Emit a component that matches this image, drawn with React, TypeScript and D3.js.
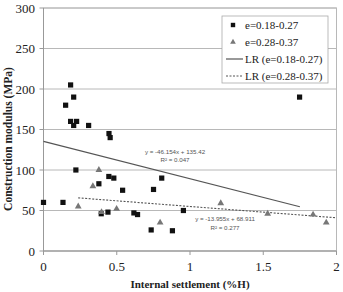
import React from "react";
import * as d3 from "d3";

// Group e=0.18-0.27 (squares)
const groupAX = [0.0, 0.133, 0.151, 0.185, 0.206, 0.185, 0.226, 0.206, 0.308, 0.447, 0.455, 0.221, 0.446, 0.48, 0.378, 0.54, 0.751, 0.807, 0.394, 0.44, 0.617, 0.642, 0.955, 0.735, 0.88, 1.748];
const groupAY = [60, 60, 180, 205, 190, 160, 160, 155, 155, 145, 140, 100, 92, 90, 83, 75, 76, 90, 46, 48, 47, 45, 50, 26, 25, 190];

// Group e=0.28-0.37 (triangles)
const groupBX = [0.378, 0.337, 0.237, 0.396, 0.499, 0.796, 1.21, 1.53, 1.84, 1.93];
const groupBY = [100, 80, 55, 48, 52, 35, 59, 46, 45, 35];

// Linear regressions
const fitA = { slope: -46.154, intercept: 135.42, x0: 0, x1: 1.75, eq: "y = -46.154x + 135.42", r2: "R² = 0.047" };
const fitB = { slope: -13.955, intercept: 68.911, x0: 0.237, x1: 2, eq: "y = -13.955x + 68.911", r2: "R² = 0.277" };

const xTicks = [0, 0.5, 1, 1.5, 2];
const yTicks = [0, 50, 100, 150, 200, 250, 300];
const legendLabels = ["e=0.18-0.27", "e=0.28-0.37", "LR (e=0.18-0.27)", "LR (e=0.28-0.37)"];

const W = 343;
const H = 292;
const serif = "'Liberation Serif', 'Times New Roman', serif";
const sans = "'Liberation Sans', Arial, sans-serif";

export default function App() {
  const x = d3.scaleLinear().domain([0, 2]).range([43.5, 336.5]);
  const y = d3.scaleLinear().domain([0, 300]).range([251, 8]);
  const tri = d3.symbol().type(d3.symbolTriangle).size(20)();

  const fitLine = (f: typeof fitA) =>
    d3.line<number>().x((v) => x(v)).y((v) => y(f.slope * v + f.intercept))([f.x0, f.x1]) || "";

  const fmt = (v: number) => (v === 0 ? "0" : String(v));

  const lx = 222;
  const ly = 16;
  const rowY = [25, 42, 59, 76];

  return (
    <svg width={W} height={H} style={{ position: "absolute", left: 0, top: 0, background: "#fff" }}>
      {/* grid */}
      {yTicks.map((t) => (
        <line key={"g" + t} x1={x(0)} x2={x(2)} y1={y(t)} y2={y(t)} stroke="#b8b8b8" strokeWidth={1} />
      ))}
      {/* plot frame */}
      <rect x={x(0)} y={y(300)} width={x(2) - x(0)} height={y(0) - y(300)} fill="none" stroke="#b8b8b8" strokeWidth={1} />
      <line x1={x(0)} x2={x(0)} y1={y(0)} y2={y(300)} stroke="#999" />
      <line x1={x(0)} x2={x(2)} y1={y(0)} y2={y(0)} stroke="#999" />

      {/* y ticks */}
      {yTicks.map((t) => (
        <g key={"y" + t}>
          <line x1={x(0) - 4} x2={x(0)} y1={y(t)} y2={y(t)} stroke="#999" />
          <text x={35} y={y(t)} dy="0.35em" textAnchor="end" fontFamily={serif} fontSize={13} fill="#222">
            {fmt(t)}
          </text>
        </g>
      ))}
      {/* x ticks */}
      {xTicks.map((t) => (
        <g key={"x" + t}>
          <line x1={x(t)} x2={x(t)} y1={y(0)} y2={y(0) + 4} stroke="#999" />
          <text x={x(t)} y={270.5} textAnchor="middle" fontFamily={serif} fontSize={13} fill="#222">
            {fmt(t)}
          </text>
        </g>
      ))}

      {/* axis titles */}
      <text x={190} y={288} textAnchor="middle" fontFamily={serif} fontSize={11} fontWeight="bold" fill="#222">
        Internal settlement  (%H)
      </text>
      <text
        transform={`translate(11.5, 139) rotate(-90)`}
        textAnchor="middle"
        fontFamily={serif}
        fontSize={11.5}
        fontWeight="bold"
        fill="#222"
      >
        Construction modulus (MPa)
      </text>

      {/* regression lines */}
      <path d={fitLine(fitA)} fill="none" stroke="#555" strokeWidth={1.2} />
      <path d={fitLine(fitB)} fill="none" stroke="#555" strokeWidth={1.1} strokeDasharray="2,1.5" />

      {/* points */}
      {groupAX.map((v, i) => (
        <rect key={"a" + i} x={x(v) - 2.6} y={y(groupAY[i]) - 2.6} width={5.2} height={5.2} fill="#111" />
      ))}
      {groupBX.map((v, i) => (
        <path key={"b" + i} d={tri || ""} transform={`translate(${x(v)},${y(groupBY[i])})`} fill="#777" />
      ))}

      {/* equation labels */}
      <g fontFamily={sans} fontSize={6.2} fill="#555" textAnchor="middle">
        <text x={175} y={154}>{fitA.eq}</text>
        <text x={175} y={161.5}>{fitA.r2}</text>
        <text x={225} y={221}>{fitB.eq}</text>
        <text x={225} y={230}>{fitB.r2}</text>
      </g>

      {/* legend */}
      <rect x={lx} y={ly} width={106} height={67} fill="#fff" stroke="#aaa" strokeWidth={0.8} />
      <rect x={233 - 2.2} y={rowY[0] - 2.2} width={4.4} height={4.4} fill="#111" />
      <path d={d3.symbol().type(d3.symbolTriangle).size(14)() || ""} transform={`translate(233,${rowY[1]})`} fill="#777" />
      <line x1={226} x2={243} y1={rowY[2]} y2={rowY[2]} stroke="#555" strokeWidth={1.2} />
      <line x1={226} x2={243} y1={rowY[3]} y2={rowY[3]} stroke="#555" strokeWidth={1} strokeDasharray="2,1.5" />
      {legendLabels.map((s, i) => (
        <text key={s} x={245} y={rowY[i]} dy="0.35em" fontFamily={serif} fontSize={11} fill="#222">
          {s}
        </text>
      ))}
    </svg>
  );
}
